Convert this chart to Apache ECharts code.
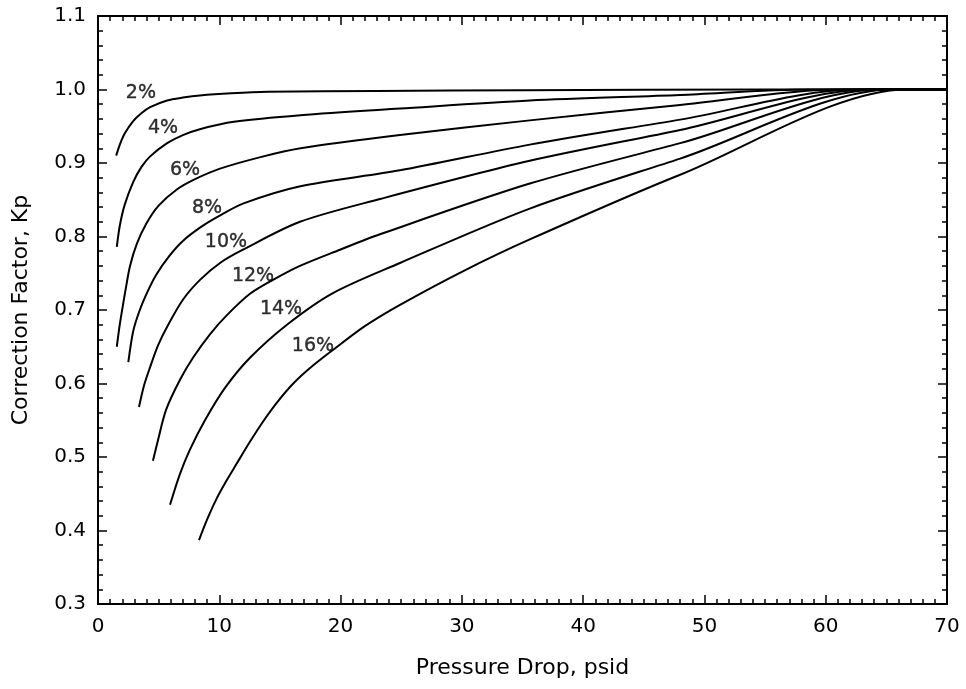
<!DOCTYPE html>
<html>
<head>
<meta charset="utf-8">
<script src="https://cdn.jsdelivr.net/npm/echarts@6/dist/echarts.min.js"></script>
<style>html,body{margin:0;padding:0;background:#fff}#c{width:966px;height:689px}</style>
</head>
<body>
<div id="c"></div>
<script>
// Curve data: [pressure drop (psid), correction factor Kp]
const curve2 = [[1.5,0.91],[1.8,0.925],[2.2,0.94],[2.9,0.957],[3.6,0.968],[4.3,0.976],[5.7,0.985],[7,0.989],[8.4,0.992],[11,0.995],[14,0.997],[23,0.998],[35,0.999],[55,1.0],[70,1.0]];
const curve4 = [[1.55,0.786],[1.8,0.815],[2.2,0.843],[2.9,0.874],[3.6,0.895],[4.3,0.909],[5.7,0.927],[7,0.938],[8.4,0.946],[11.2,0.956],[16.7,0.965],[24.9,0.974],[35.6,0.985],[48,0.9925],[58.5,1.0],[70,1.0]];
const curve6 = [[1.55,0.65],[1.75,0.675],[1.95,0.696],[2.3,0.73],[2.64,0.76],[3.2,0.79],[4,0.818],[5,0.842],[6.5,0.864],[8,0.878],[10,0.892],[13.4,0.908],[16.7,0.92],[24.9,0.938],[35.6,0.958],[48,0.979],[61,1.0],[70,1.0]];
const curve8 = [[2.5,0.629],[2.9,0.671],[3.4,0.698],[4,0.722],[4.8,0.748],[5.9,0.774],[7,0.794],[8.5,0.813],[10,0.828],[12,0.845],[16.6,0.868],[24.9,0.89],[35.6,0.925],[48,0.959],[62.5,1.0],[70,1.0]];
const curve10 = [[3.38,0.568],[3.79,0.597],[4.29,0.622],[4.95,0.652],[5.69,0.677],[7.0,0.714],[8.41,0.741],[10.06,0.764],[11.95,0.782],[16.65,0.82],[23.25,0.851],[35.6,0.903],[48,0.945],[63.6,1.0],[70,1.0]];
const curve12 = [[4.53,0.495],[4.95,0.523],[5.61,0.564],[6.76,0.605],[7.83,0.635],[9.23,0.667],[10.63,0.693],[12.53,0.722],[14.43,0.741],[16.65,0.76],[19.95,0.782],[23.25,0.803],[35.6,0.872],[48,0.927],[64.5,1.0],[70,1.0]];
const curve14 = [[5.94,0.435],[6.76,0.477],[7.58,0.51],[8.82,0.55],[10.47,0.594],[12.53,0.635],[15.58,0.68],[19.37,0.723],[24.9,0.764],[35.6,0.838],[48,0.906],[65.5,1.0],[70,1.0]];
const curve16 = [[8.33,0.387],[9,0.415],[9.8,0.444],[10.6,0.468],[11.4,0.49],[12.5,0.52],[13.6,0.548],[14.8,0.575],[16.1,0.6],[17.7,0.624],[19.4,0.646],[22,0.678],[24.9,0.707],[30,0.752],[35.6,0.796],[48,0.884],[66.7,1.0],[70,1.0]];

const curveNames = ['2%','4%','6%','8%','10%','12%','14%','16%'];
const curves = [curve2, curve4, curve6, curve8, curve10, curve12, curve14, curve16];
// Label anchor positions for each curve label
const labelPoints = [[3.54,0.995],[5.36,0.948],[7.17,0.890],[8.99,0.839],[10.55,0.793],[12.78,0.746],[15.09,0.701],[17.72,0.651]];

const xTitle = 'Pressure Drop, psid';
const yTitle = 'Correction Factor, Kp';

const FONT = 'DejaVu Sans';
const chart = echarts.init(document.getElementById('c'), null, {renderer:'canvas'});

const axisLine = {show:true, onZero:false, lineStyle:{color:'#000', width:2}};
const tickStyle = {color:'#000', width:1.5};
const series = curves.map((d,i)=>({
  type:'line', name:curveNames[i], data:d, xAxisIndex:0, yAxisIndex:0,
  showSymbol:false, smooth:0.3,
  lineStyle:{color:'#000', width:2}, z:3, silent:true
}));
series.push({
  type:'scatter', xAxisIndex:0, yAxisIndex:0, symbolSize:0, silent:true,
  data: labelPoints.map((p,i)=>({value:p, name:curveNames[i]})),
  label:{show:true, position:'inside', formatter:p=>p.name, color:'#000', fontFamily:FONT, fontSize:19,
         textBorderColor:'#000', textBorderWidth:0.4},
  z:5
});

function xAx(pos, interval, len, main, gi){
  const a = {type:'value', gridIndex:gi, min:0, max:70, interval:interval, position:pos,
    axisLine:axisLine,
    axisTick:{show:true, inside:true, length:len, lineStyle:tickStyle},
    axisLabel:{show:false}, splitLine:{show:false}};
  if(main){
    a.name = xTitle; a.nameLocation='middle'; a.nameGap=53;
    a.nameTextStyle={fontFamily:FONT, fontSize:22, color:'#000'};
    a.axisLabel={show:true, fontFamily:FONT, fontSize:20, color:'#000', margin:13};
  }
  return a;
}
function yAx(pos, interval, len, main, gi){
  const a = {type:'value', gridIndex:gi, min:0.3, max:1.1, interval:interval, position:pos,
    axisLine:axisLine,
    axisTick:{show:true, inside:true, length:len, lineStyle:tickStyle},
    axisLabel:{show:false}, splitLine:{show:false}};
  if(main){
    a.name = yTitle; a.nameLocation='middle'; a.nameGap=66; a.nameRotate=90;
    a.nameTextStyle={fontFamily:FONT, fontSize:22, color:'#000'};
    a.axisLabel={show:true, fontFamily:FONT, fontSize:20, color:'#000', margin:12, formatter:v=>v.toFixed(1)};
  }
  return a;
}

const gridBox = {left:98, right:19, top:16, bottom:85, containLabel:false};
chart.setOption({
  animation:false,
  backgroundColor:'#fff',
  grid:[Object.assign({}, gridBox), Object.assign({}, gridBox)],
  xAxis:[xAx('bottom',10,9,true,0), xAx('top',10,9,false,0), xAx('bottom',1,5,false,1), xAx('top',1,5,false,1)],
  yAxis:[yAx('left',0.1,9,true,0), yAx('right',0.1,9,false,0), yAx('left',0.02,5,false,1), yAx('right',0.02,5,false,1)],
  series:series
});
</script>
</body>
</html>
